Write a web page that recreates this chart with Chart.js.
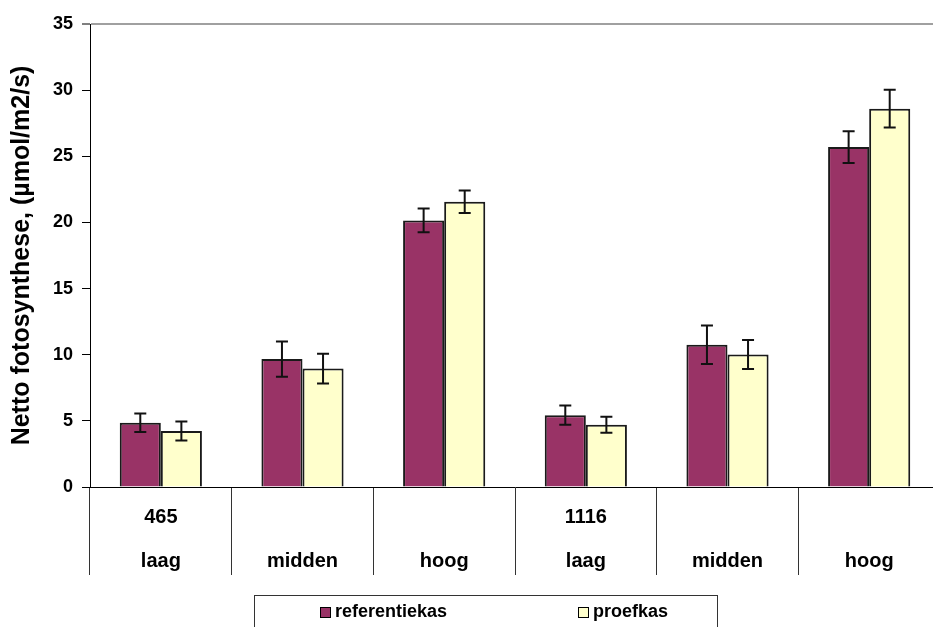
<!DOCTYPE html>
<html>
<head>
<meta charset="utf-8">
<script src="https://cdn.jsdelivr.net/npm/chart.js@4"></script>
<style>
  html, body { margin: 0; padding: 0; background: #fff; overflow: hidden; }
  #wrap { width: 945px; height: 627px; }
</style>
</head>
<body>
<div id="wrap"><canvas id="grafiek" width="945" height="627"></canvas></div>
<script>
// categorieen (twee niveaus: CO2 / licht)
const categorieen = [['465', 'laag'], ['', 'midden'], ['', 'hoog'], ['1116', 'laag'], ['', 'midden'], ['', 'hoog']];

// netto fotosynthese (µmol/m2/s)
const referentiekas = [4.85, 9.67, 20.15, 5.43, 10.75, 25.7];
const proefkas      = [4.23, 8.95, 21.57, 4.71, 10.02, 28.6];

// foutbalken (+/-)
const foutReferentie = [0.70, 1.33, 0.90, 0.73, 1.45, 1.20];
const foutProef      = [0.72, 1.13, 0.85, 0.60, 1.10, 1.43];

const yTicks = [0, 5, 10, 15, 20, 25, 30, 35];

const kleurRef = '#993366';
const kleurProef = '#FFFFCC';
const lettertype = "'Liberation Sans', Arial, sans-serif";

Chart.defaults.font.family = lettertype;
Chart.defaults.color = '#000';

// Plugin voor foutbalken
const pluginFoutbalken = {
  id: 'foutbalken',
  afterDatasetsDraw(chart) {
    const { ctx, scales } = chart;
    const y = scales.y;
    chart.data.datasets.forEach((ds, i) => {
      const meta = chart.getDatasetMeta(i);
      meta.data.forEach((bar, j) => {
        const v = ds.data[j];
        const e = ds.fout[j];
        const yTop = y.getPixelForValue(v + e);
        const yBot = y.getPixelForValue(v - e);
        const x = bar.x;
        ctx.save();
        ctx.strokeStyle = '#111';
        ctx.lineWidth = 2;
        ctx.beginPath();
        ctx.moveTo(x, yTop); ctx.lineTo(x, yBot);
        ctx.moveTo(x - 6, yTop); ctx.lineTo(x + 6, yTop);
        ctx.moveTo(x - 6, yBot); ctx.lineTo(x + 6, yBot);
        ctx.stroke();
        ctx.restore();
      });
    });
  }
};

// Plugin voor legenda met kader
const pluginLegenda = {
  id: 'legendaKader',
  afterDraw(chart) {
    const { ctx } = chart;
    ctx.save();
    ctx.strokeStyle = '#333';
    ctx.lineWidth = 1;
    ctx.strokeRect(254.5, 595.5, 463, 50);
    const posities = [320, 578];
    ctx.font = 'bold 18px ' + lettertype;
    ctx.textBaseline = 'middle';
    chart.data.datasets.forEach((ds, i) => {
      const x = posities[i];
      ctx.fillStyle = ds.backgroundColor;
      ctx.fillRect(x, 607, 10, 10);
      ctx.strokeStyle = '#000';
      ctx.strokeRect(x + 0.5, 607.5, 10, 10);
      ctx.fillStyle = '#000';
      ctx.fillText(ds.label, x + 15, 612);
    });
    ctx.restore();
  }
};

new Chart(document.getElementById('grafiek').getContext('2d'), {
  type: 'bar',
  data: {
    labels: categorieen,
    datasets: [
      {
        label: 'referentiekas',
        data: referentiekas,
        fout: foutReferentie,
        backgroundColor: kleurRef,
        borderColor: '#1a1a1a',
        borderWidth: 2,
        categoryPercentage: 0.58,
        barPercentage: 1.0
      },
      {
        label: 'proefkas',
        data: proefkas,
        fout: foutProef,
        backgroundColor: kleurProef,
        borderColor: '#1a1a1a',
        borderWidth: 2,
        categoryPercentage: 0.58,
        barPercentage: 1.0
      }
    ]
  },
  options: {
    responsive: false,
    animation: false,
    layout: { padding: { left: 0, right: 5, top: 24, bottom: 44 } },
    plugins: {
      legend: { display: false },
      tooltip: { enabled: false }
    },
    scales: {
      x: {
        grid: {
          offset: true,
          drawOnChartArea: false,
          drawTicks: true,
          tickLength: 88,
          tickColor: '#333',
          tickWidth: 1
        },
        border: { color: '#000', width: 1 },
        ticks: {
          autoSkip: false,
          maxRotation: 0,
          padding: -80,
          color: '#000',
          font: { size: 20, weight: 'bold', lineHeight: '44px' }
        },
        afterFit(s) { s.height = 96; }
      },
      y: {
        min: 0,
        max: 35,
        afterBuildTicks(s) { s.ticks = yTicks.map(v => ({ value: v })); },
        ticks: {
          color: '#000',
          padding: 9,
          font: { size: 18, weight: 'bold' }
        },
        grid: {
          color: (c) => (c.tick && c.tick.value === 35 ? '#a0a0a0' : 'rgba(0,0,0,0)'),
          lineWidth: (c) => (c.tick && c.tick.value === 35 ? 2 : 1),
          drawTicks: true,
          tickLength: 8,
          tickColor: '#000',
          tickWidth: 1
        },
        border: { color: '#000', width: 1 },
        title: {
          display: true,
          text: 'Netto fotosynthese, (µmol/m2/s)',
          color: '#000',
          font: { size: 25, weight: 'bold' },
          padding: { top: 7, bottom: 0 }
        },
        afterFit(s) { s.width = 90; }
      }
    }
  },
  plugins: [pluginFoutbalken, pluginLegenda]
});
</script>
</body>
</html>
